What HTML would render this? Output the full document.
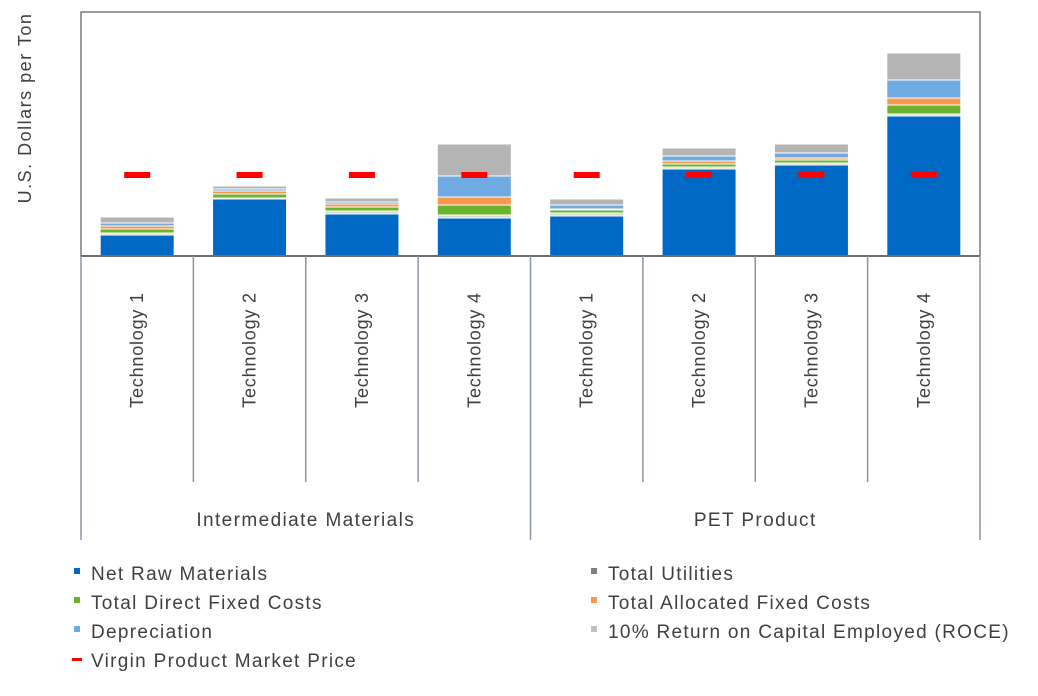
<!DOCTYPE html>
<html><head><meta charset="utf-8"><style>
body{margin:0;background:#fff;font-family:"Liberation Sans",Arial,sans-serif;}
svg text{font-family:"Liberation Sans",Arial,sans-serif;fill:#404040;}
</style></head><body>
<svg id="chart" width="1038" height="691" xmlns="http://www.w3.org/2000/svg">
<g id="plot"></g>
</svg>
<script>
const categories=["Technology 1","Technology 2","Technology 3","Technology 4","Technology 1","Technology 2","Technology 3","Technology 4"];
const groups=["Intermediate Materials","PET Product"];
const netRaw=[21,57,42,38,40,87,91,140];
const utilities=[2,1,3,3,3,2,2,2];
const directFixed=[4,4,4,10,3,3,3,9];
const allocFixed=[3,3,3,8,1,3,2,7];
const depreciation=[3,2,2,21,4,5,5,18];
const roce=[6,3,4,32,6,8,9,27];
const marketPrice=[81,81,81,81,81,81,81,81];
const seriesNames=["Net Raw Materials","Total Utilities","Total Direct Fixed Costs","Total Allocated Fixed Costs","Depreciation","10% Return on Capital Employed (ROCE)"];
const seriesColors=["#0069c6","#d8d8cc","#6ab42d","#f7994d","#6faae2","#b4b4b4"];
const legendColors=["#0069c6","#7f7f7f","#6ab42d","#f7994d","#6faae2","#c0c0c0"];
const series=[netRaw,utilities,directFixed,allocFixed,depreciation,roce];
const NS="http://www.w3.org/2000/svg";
const L=81,R=980,T=12,B=256,yMax=244;
const pitch=(R-L)/categories.length;
const xC=i=>L+pitch*(i+0.5);
const y=v=>B-(v/yMax)*(B-T);
const svg=document.getElementById('plot');
function mk(tag,attrs){const e=document.createElementNS(NS,tag);for(const k in attrs)e.setAttribute(k,attrs[k]);svg.appendChild(e);return e;}
let fr=mk('rect',{x:L,y:T,width:R-L,height:B-T,fill:'none',stroke:'#7a7a7a','stroke-width':1.5});


categories.forEach((c,i)=>{
  let acc=0;
  series.forEach((s,k)=>{
    const v=s[i];
    const r=mk('rect',{x:xC(i)-37,y:y(acc+v),width:74,height:Math.max(0,y(acc)-y(acc+v)),fill:seriesColors[k],stroke:'#fff','stroke-width':1});
    
    
    acc+=v;
  });
  const m=mk('rect',{x:xC(i)-13,y:y(marketPrice[i])-3,width:26,height:6,fill:'#ff0000'});
  
  
});
let bl=mk('line',{x1:L,x2:R,y1:B,y2:B,stroke:'#6e6e6e','stroke-width':2});


for(let i=0;i<=categories.length;i++){
  const x=L+pitch*i;const outer=(i%4===0);
  const d=mk('line',{x1:x,x2:x,y1:B,y2:outer?540:482,stroke:'#8a96a3','stroke-width':1.5});
  
  
}
categories.forEach((c,i)=>{
  const t=mk('text',{x:0,y:0,transform:`translate(${xC(i)+6},350) rotate(-90)`,'text-anchor':'middle','font-size':18,'letter-spacing':0.8});
  t.textContent=c;
  
  
});
groups.forEach((g,j)=>{
  const t=mk('text',{x:L+pitch*4*(j+0.5),y:526,'text-anchor':'middle','font-size':19,'letter-spacing':1.4});
  t.textContent=g;
  
  
});
const yt=mk('text',{x:0,y:0,transform:'translate(31,108) rotate(-90)','text-anchor':'middle','font-size':18,'letter-spacing':1.5});
yt.textContent="U.S. Dollars per Ton";


const legOrder=[[0,0,0],[1,1,0],[2,0,1],[3,1,1],[4,0,2],[5,1,2]];
legOrder.forEach(([k,col,row])=>{
  const lx=col?591:74, ly=580+row*29;
  const s=mk('rect',{x:lx,y:ly-12,width:6,height:6,fill:legendColors[k]});
  
  
  const t=mk('text',{x:lx+17,y:ly,'font-size':19,'letter-spacing':1.3});
  t.textContent=seriesNames[k];
  
  
});
const ms=mk('rect',{x:72,y:658,width:10,height:3,fill:'#ff0000'});


const mt=mk('text',{x:91,y:667,'font-size':19,'letter-spacing':1.3});
mt.textContent="Virgin Product Market Price";


</script>
</body></html>
